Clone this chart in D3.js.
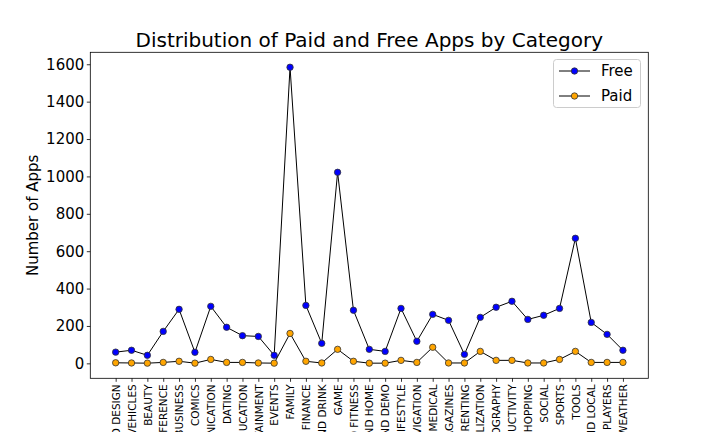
<style>
body {margin:0; background:#fff;}
#chart text {font-family:'DejaVu Sans', sans-serif; fill:#000;}
.axis path, .axis line {stroke:#000; stroke-width:0.8;}
</style>
<script src='https://cdn.jsdelivr.net/npm/d3@7'></script>
<svg id='chart'></svg><script>
var categories=['ART AND DESIGN','AUTO AND VEHICLES','BEAUTY','BOOKS AND REFERENCE','BUSINESS','COMICS',
  'COMMUNICATION','DATING','EDUCATION','ENTERTAINMENT','EVENTS','FAMILY','FINANCE','FOOD AND DRINK','GAME',
  'HEALTH AND FITNESS','HOUSE AND HOME','LIBRARIES AND DEMO','LIFESTYLE','MAPS AND NAVIGATION','MEDICAL',
  'NEWS AND MAGAZINES','PARENTING','PERSONALIZATION','PHOTOGRAPHY','PRODUCTIVITY','SHOPPING','SOCIAL',
  'SPORTS','TOOLS','TRAVEL AND LOCAL','VIDEO PLAYERS','WEATHER'];
var free=[60,70,43,171,289,59,305,193,148,144,43,1584,310,107,1022,284,75,64,294,118,262,230,48,246,300,332,235,257,294,669,219,155,70];
var paid=[3,2,1,5,11,1,21,5,5,2,1,160,11,2,75,11,1,1,16,5,86,2,2,64,16,16,2,2,21,64,5,5,5];
var yTicks=[0,200,400,600,800,1000,1200,1400,1600];

var W=720,H=432,pl=90.3,pr=648.3,pt=52.3,pb=378.3;
var svg=d3.select('#chart').attr('width',W).attr('height',H);
var x=d3.scaleLinear().domain([-1.6,categories.length-1+1.6]).range([pl,pr]);
var y=d3.scaleLinear().domain([-80,1664]).range([pb,pt]);

var xa=svg.append('g').attr('class','axis').attr('transform','translate(0,'+pb+')')
  .call(d3.axisBottom(x).tickValues(d3.range(categories.length)).tickSize(3.5).tickSizeOuter(0)
  .tickFormat(i=>categories[i]));
xa.select('.domain').remove();
xa.selectAll('text').attr('transform','rotate(-90)').attr('x',-6).attr('y',0).attr('dy','0.35em')
  .style('text-anchor','end').style('font-size','10.5px');
var ya=svg.append('g').attr('class','axis').attr('transform','translate('+pl+',0)')
  .call(d3.axisLeft(y).tickValues(yTicks).tickSize(3.5).tickSizeOuter(0).tickFormat(d3.format('d')));
ya.select('.domain').remove();
ya.selectAll('text').style('font-size','15px').attr('x',-6);

svg.append('rect').attr('x',pl).attr('y',pt).attr('width',pr-pl).attr('height',pb-pt)
  .attr('fill','none').attr('stroke','#000').attr('stroke-width',0.8);

var series=[{name:'Free',vals:free,color:'#0000ff'},{name:'Paid',vals:paid,color:'#ffa500'}];
var line=d3.line().x((d,i)=>x(i)).y(d=>y(d));
series.forEach(s=>{
  svg.append('path').datum(s.vals).attr('d',line).attr('fill','none').attr('stroke','#000').attr('stroke-width',1);
  svg.append('g').selectAll('circle').data(s.vals).enter().append('circle')
    .attr('cx',(d,i)=>x(i)).attr('cy',d=>y(d)).attr('r',3.2)
    .attr('fill',s.color).attr('stroke','#333').attr('stroke-width',0.8);
});

svg.append('text').attr('x',(pl+pr)/2).attr('y',47).attr('text-anchor','middle')
  .style('font-size','20px').text('Distribution of Paid and Free Apps by Category');
svg.append('text').attr('transform','translate(38,'+((pt+pb)/2)+') rotate(-90)')
  .attr('text-anchor','middle').style('font-size','15px').text('Number of Apps');

var lg=svg.append('g');
lg.append('rect').attr('x',553.5).attr('y',59.5).attr('width',87).attr('height',48).attr('rx',3)
  .attr('fill','#fff').attr('stroke','#ccc').attr('stroke-width',1);
series.forEach((s,i)=>{
  var ly=71+i*25;
  lg.append('line').attr('x1',559).attr('x2',590).attr('y1',ly).attr('y2',ly).attr('stroke','#000');
  lg.append('circle').attr('cx',574.5).attr('cy',ly).attr('r',3.2).attr('fill',s.color).attr('stroke','#333').attr('stroke-width',0.8);
  lg.append('text').attr('x',601).attr('y',ly).attr('dy','0.35em').style('font-size','15px').text(s.name);
});
</script>
